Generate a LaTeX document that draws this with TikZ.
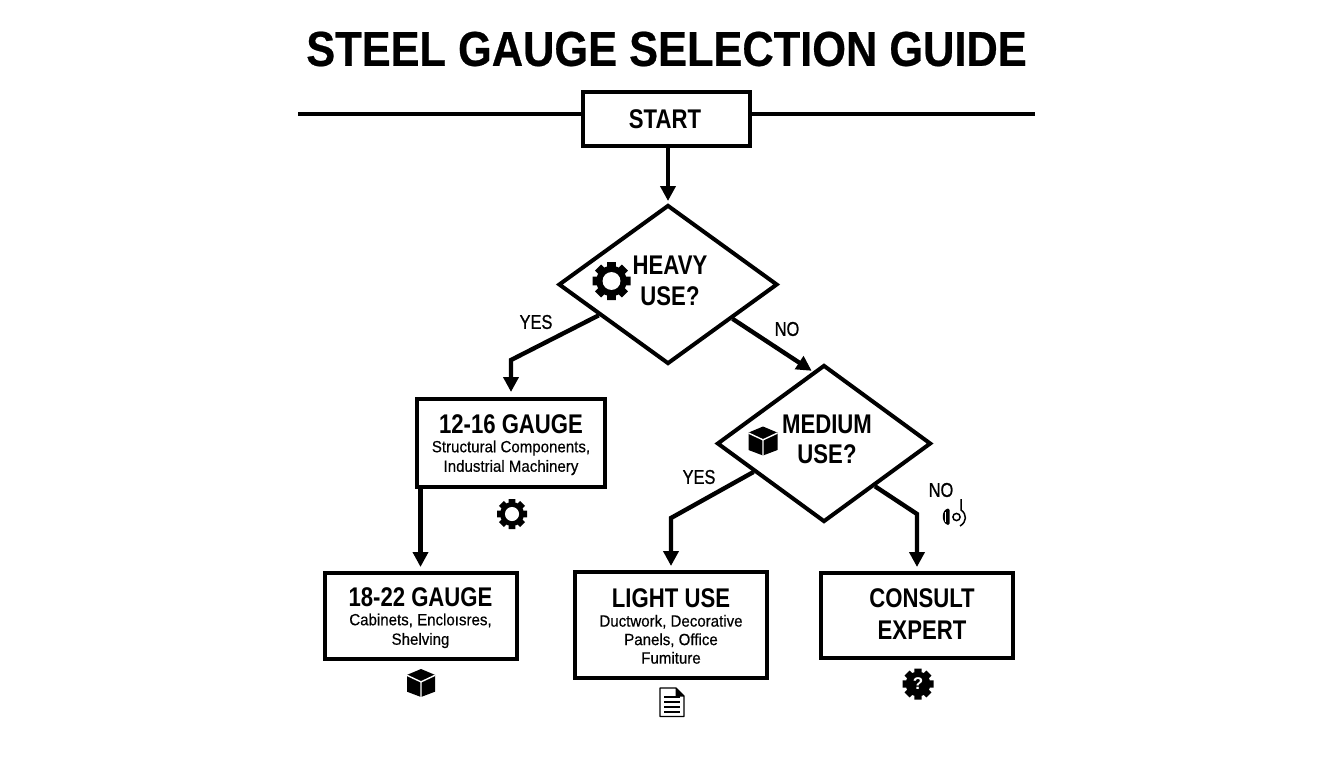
\documentclass[tikz,border=0pt]{standalone}
\usepackage{fontspec}
\usetikzlibrary{shapes.geometric,arrows.meta}
\setmainfont{Liberation Sans}
\newfontfamily\titlefont[FakeStretch=0.885,FakeBold=0.5]{Liberation Sans Bold}
\newfontfamily\hdfont[FakeStretch=0.82]{Liberation Sans Bold}
\newfontfamily\subfont[FakeStretch=0.93,FakeBold=0.35]{Liberation Sans}
\newfontfamily\yesfont[FakeStretch=0.82,FakeBold=0.9]{Liberation Sans}
\newcommand{\hdtxt}[1]{{\fontsize{27}{30}\selectfont\hdfont #1}}
\newcommand{\subtxt}[1]{{\fontsize{16.2}{18.5}\selectfont\subfont #1}}
\newcommand{\yestxt}[1]{{\fontsize{20}{22}\selectfont\yesfont #1}}
\tikzset{
  x=1pt,y=-1pt,
  boxnode/.style={draw=black,line width=4pt,fill=white,rectangle,inner sep=0pt},
  dianode/.style={draw=black,line width=4pt,fill=white,diamond,inner sep=0pt},
  link/.style={draw=black,line width=4.4pt,-{Triangle[length=15pt,width=15pt]},line join=miter},
  plain/.style={draw=black,line width=4pt},
  lbl/.style={inner sep=0pt,align=center,font=\fontsize{14.5}{18.5}\selectfont},
  gearicon/.pic={
    \fill[black] (0,0) circle (0.8);
    \foreach \a in {0,45,...,315}{
      \fill[black,rotate=\a,rounded corners=0.05] (-0.23,-1) rectangle (0.23,-0.6);
    }
    \fill[white] (0,0) circle (0.47);
  },
  qgearicon/.pic={
    \fill[black] (0,0) circle (0.8);
    \foreach \a in {0,45,...,315}{
      \fill[black,rotate=\a,rounded corners=0.05] (-0.23,-1) rectangle (0.23,-0.6);
    }
  },
  cubeicon/.pic={
    \fill[black,rounded corners=0.08] (0,-1) -- (1,-0.58) -- (1,0.62) -- (0,1) -- (-1,0.62) -- (-1,-0.58) -- cycle;
    \draw[white,line width=1.4pt] (-1,-0.55) -- (0,-0.08) -- (1,-0.55) (0,-0.08) -- (0,1);
  },
}
\begin{document}
\begin{tikzpicture}
\path[use as bounding box] (0,0) rectangle (1344,768);

\node[lbl] (title) at (666.5,49) {\fontsize{49}{52}\selectfont\titlefont STEEL GAUGE SELECTION GUIDE};

\coordinate (ruleL) at (298,114);
\coordinate (ruleR) at (1035,114);
\draw[plain] (ruleL) -- (ruleR);

\node[boxnode,minimum width=167pt,minimum height=54pt] (start) at (666.5,119) {};
\node[lbl] (startT) at (665,119) {\hdtxt{START}};

\node[dianode,minimum width=219pt,minimum height=159pt,aspect=1.377] (heavy) at (668,284.5) {};
\node[lbl] (heavyT) at (670,281) {\hdtxt{HEAVY}\\[11pt]\hdtxt{USE?}};
\pic[scale=19] at (611.5,281) {gearicon};

\node[dianode,minimum width=214pt,minimum height=157pt,aspect=1.363] (medium) at (824,443.5) {};
\node[lbl] (mediumT) at (827,439) {\hdtxt{MEDIUM}\\[10pt]\hdtxt{USE?}};
\pic[scale=14.5] at (763,441) {cubeicon};

\node[boxnode,minimum width=188pt,minimum height=88pt] (b12) at (511,443) {};
\node[lbl] (b12T) at (511,445) {\hdtxt{12-16 GAUGE}\\[0pt]\subtxt{Structural Components,}\\[1pt]\subtxt{Industrial Machinery}};
\pic[scale=15] at (512,514) {gearicon};

\node[boxnode,minimum width=192pt,minimum height=86pt] (b18) at (420.5,616) {};
\node[lbl] (b18T) at (420.5,618) {\hdtxt{18-22 GAUGE}\\[0pt]\subtxt{Cabinets, Encloısres,}\\[1pt]\subtxt{Shelving}};
\pic[scale=14] at (421,683) {cubeicon};

\node[boxnode,minimum width=192pt,minimum height=106pt] (light) at (671,625) {};
\node[lbl] (lightT) at (671,626) {\hdtxt{LIGHT USE}\\[1pt]\subtxt{Ductwork, Decorative}\\\subtxt{Panels, Office}\\\subtxt{Fumiture}};

\node[boxnode,minimum width=192pt,minimum height=85pt] (consult) at (917,615.5) {};
\node[lbl] (consultT) at (922,614) {\hdtxt{CONSULT}\\[12pt]\hdtxt{EXPERT}};

% document icon
\draw[black,line width=1.4pt,line join=round] (660,688) -- (676,688) -- (684,696) -- (684,716.5) -- (660,716.5) -- cycle;
\fill[black] (675.5,688) -- (684,696.5) -- (675.5,696.5) -- cycle;
\foreach \yy in {697,702,707,712}{ \draw[black,line width=1.4pt] (664,\yy) -- (680,\yy); }

% gear with question mark
\pic[scale=15.5] at (918,684) {qgearicon};
\node[lbl,text=white] (qmark) at (918,684) {\fontsize{17}{17}\selectfont\bfseries ?};

% odd icon beside NO
\fill[black] (948,508.5) .. controls (941,510) and (941,523) .. (948,525) -- (949.5,523.5) -- (949.5,510) -- cycle;
\draw[white,line width=0.8pt] (945.7,512) -- (945.7,522);
\draw[black,line width=1.5pt] (956.5,517) circle (3.6);
\draw[black,line width=1.5pt] (961,499) -- (961,510) .. controls (967,514) and (967,522) .. (960,526);

% connectors
\coordinate (h1) at (511,360);
\draw[link,shorten >=5pt] (heavy.204) -- (h1) -- (b12.north);
\coordinate (mEntry) at (815,373);
\draw[link,shorten >=4pt] (heavy.-28) -- (mEntry);
\draw[link,shorten >=2pt] (heavy.north |- start.south) -- (heavy.north);
\draw[link,shorten >=4pt] (b18.north |- b12.south) -- (b18.north);
\coordinate (m1) at (671,518);
\draw[link,shorten >=4pt] (medium.202) -- (m1) -- (light.north);
\coordinate (m2) at (917,514);
\draw[link,shorten >=4pt] (medium.-40) -- (m2) -- (consult.north);

\node[lbl] (yes1) at (536,322) {\yestxt{YES}};
\node[lbl] (no1) at (787,329) {\yestxt{NO}};
\node[lbl] (yes2) at (699,477) {\yestxt{YES}};
\node[lbl] (no2) at (941,490) {\yestxt{NO}};
\end{tikzpicture}
\end{document}
